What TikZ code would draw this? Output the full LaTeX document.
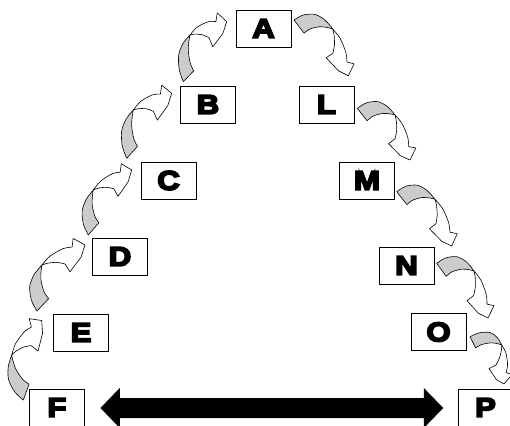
\documentclass[tikz,border=0pt]{standalone}
\usepackage{fontspec}
\usetikzlibrary{calc}
\newfontfamily\heavy{Liberation Sans Bold}[FakeStretch=1.15]
\definecolor{ribbon}{gray}{0.8}

% thickens a glyph by stroking its outline as well as filling it
\newcommand\fatten[1]{\special{pdf:literal direct 2 Tr 1.8 w}#1\special{pdf:literal direct 0 Tr 0.4 w}}

\tikzset{
  letterbox/.style={draw=black, line width=0.9pt, fill=white,
    minimum width=55pt, minimum height=37pt, inner sep=0pt,
    font=\heavy\fontsize{27}{27}\selectfont},
  backface/.style={fill=ribbon, draw=black, line width=0.6pt, line join=round},
  frontface/.style={fill=white, draw=black, line width=0.6pt, line join=round},
}

% Twisted ribbon arrow: #1 = outer tail corner, #2 = point where the
% ribbon twists, #3 = arrow tip. The shape is laid out in the frame
% spanned by (#2-#1) and (#3-#1).
\newcommand\twistarrow[3]{%
  \coordinate (twO) at #1;
  \coordinate (twE) at ($#2-#1$);
  \coordinate (twF) at ($#3-#1$);
  \begin{scope}[x={(twE)}, y={(twF)}, shift={(twO)}]
    \filldraw[backface]
      plot[smooth] coordinates {(0,0) (0.470,-0.165) (0.883,-0.2436) (1.033,-0.166) (1,0)}
      -- plot[smooth] coordinates {(1,0) (0.895,-0.0064) (0.651,0.015) (0.244,0.1215) (-0.094,0.2526)}
      -- cycle;
    \filldraw[frontface]
      plot[smooth] coordinates {(1,0) (0.944,0.175) (0.680,0.470) (0.400,0.690)}
      -- (0.585,0.692) -- (0,1) -- (-0.172,0.938) -- (-0.155,0.703)
      -- plot[smooth] coordinates {(0.220,0.560) (0.555,0.350) (0.851,0.131) (1,0)}
      -- cycle;
  \end{scope}}

\begin{document}
\begin{tikzpicture}[x=1pt,y=-1pt]
\useasboundingbox (0,0) rectangle (510,425);

% letter boxes
\node[letterbox] (A) at (263.5,28.5) {\fatten{A}};
\node[letterbox] (B) at (208,104.5) {\fatten{B}};
\node[letterbox] (C) at (168.5,180.5) {\fatten{C}};
\node[letterbox] (D) at (120,256.5) {\fatten{D}};
\node[letterbox] (E) at (81,332.5) {\fatten{E}};
\node[letterbox] (F) at (57,407.5) {\fatten{F}};
\node[letterbox] (L) at (326.5,104.5) {\fatten{L}};
\node[letterbox] (M) at (367,180.5) {\fatten{M}};
\node[letterbox] (N) at (406.5,265.5) {\fatten{N}};
\node[letterbox] (O) at (438.5,332) {\fatten{O}};
\node[letterbox] (P) at (485.5,407.5) {\fatten{P}};

% heavy double-headed arrow between F and P
\coordinate (bl) at ($(F.east)+(15.5,0.5)$);
\coordinate (br) at ($(P.west)+(-14.3,0.5)$);
\fill[black] (bl) -- ++(19.3,-20) -- ++(0,10) -- ($(br)+(-19.4,-10)$) -- ++(0,-10)
  -- (br) -- ++(-19.4,20) -- ++(0,-10) -- ($(bl)+(19.3,10)$) -- ++(0,10) -- cycle;

% ribbon arrows, right side going down
\twistarrow{(294,20)}{(332.7,29)}{(348.3,75.7)}
\twistarrow{(357.3,108.3)}{(395,115)}{(410,160)}
\twistarrow{(396.7,191.7)}{(435,199.3)}{(451.7,246)}
\twistarrow{(436.7,263.3)}{(474,271)}{(488,318)}
\twistarrow{(470,336.7)}{(501.7,345)}{(504,384)}

% ribbon arrows, left side going up
\twistarrow{(23.3,400)}{(11.7,355)}{(41.7,320.5)}
\twistarrow{(37,311)}{(42,265)}{(85,245)}
\twistarrow{(88.3,235)}{(93.3,190)}{(131.7,170)}
\twistarrow{(126.7,158.3)}{(133.3,110)}{(171.7,93.3)}
\twistarrow{(183.3,81.7)}{(190,35)}{(226.7,21.7)}
\end{tikzpicture}
\end{document}
